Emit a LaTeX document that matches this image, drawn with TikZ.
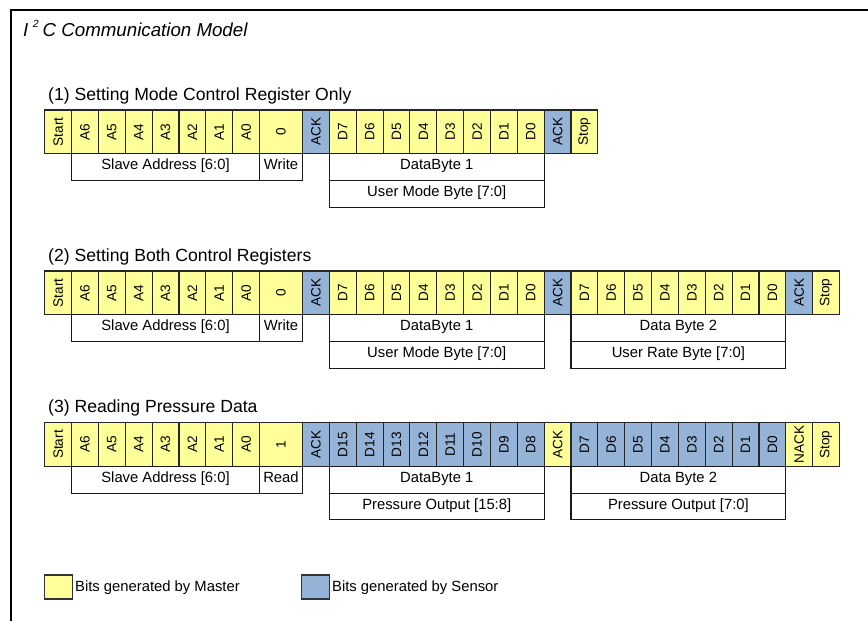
\documentclass[tikz,border=0pt]{standalone}
\usepackage{graphicx}
\usepackage{fontspec}
\setmainfont{Liberation Sans}
\definecolor{mY}{HTML}{FFFF99}
\definecolor{sB}{HTML}{95B3D7}
\begin{document}
\begin{tikzpicture}[x=1pt,y=-1pt,
  cellbox/.style={draw=black!85, line width=1.1pt, minimum height=43.7pt, inner sep=0pt, outer sep=0pt, anchor=north west, font=\fontsize{13.6}{14}\selectfont},
  labbox/.style={draw=black!90, line width=1.1pt, minimum height=26.7pt, inner sep=0pt, outer sep=0pt, anchor=north west, text height=0.72em, text depth=0.2em, font=\fontsize{14.8}{15}\selectfont},
  legbox/.style={draw=black!80, line width=1.3pt, minimum width=27.6pt, minimum height=24pt, inner sep=0pt, outer sep=0pt, anchor=north west},
  legtext/.style={anchor=base west, inner sep=0pt, font=\fontsize{14.8}{15}\selectfont},
  sectitle/.style={anchor=base west, inner sep=0pt, font=\fontsize{17.6}{18}\selectfont}]
\useasboundingbox (0,0) rectangle (868,621);
\fill[white] (0,0) rectangle (868,621);
\draw[line width=1.8pt] (11,621) -- (11,10) -- (868,10);

\node[anchor=base west, inner sep=0pt, font=\fontsize{18.7}{20}\selectfont\itshape] (title) at (23,36)
  {I\kern4.5pt\raisebox{9pt}{\fontsize{10.5}{11}\selectfont 2}\kern4pt C Communication Model};

% ---------- Row 1 ----------
\node[sectitle] (t1) at (48,100) {(1) Setting Mode Control Register Only};
\coordinate (r1c0) at (44.7,110);
\foreach \t/\f/\w [count=\i, remember=\i as \j (initially 0)] in
  {Start/mY/26.85pt, A6/mY/26.85pt, A5/mY/26.85pt, A4/mY/26.85pt, A3/mY/26.85pt, A2/mY/26.85pt, A1/mY/26.85pt, A0/mY/26.85pt,
   0/mY/43pt, ACK/sB/26.85pt,
   D7/mY/26.85pt, D6/mY/26.85pt, D5/mY/26.85pt, D4/mY/26.85pt, D3/mY/26.85pt, D2/mY/26.85pt, D1/mY/26.85pt, D0/mY/26.85pt,
   ACK/sB/26.85pt, Stop/mY/26.85pt}
  \node[cellbox, fill=\f, minimum width=\w] (r1c\i) at (r1c\j.north east) {\rotatebox{90}{\t}};
\node[labbox, minimum width=187.95pt] (r1sa) at (r1c1.south east) {Slave Address [6:0]};
\node[labbox, minimum width=43pt] (r1rw) at (r1sa.north east) {Write};
\node[labbox, minimum width=214.8pt] (r1d1) at (r1c10.south east) {DataByte 1};
\node[labbox, minimum width=214.8pt] (r1u1) at (r1d1.south west) {User Mode Byte [7:0]};

% ---------- Row 2 ----------
\node[sectitle] (t2) at (48,261) {(2) Setting Both Control Registers};
\coordinate (r2c0) at (44.7,271);
\foreach \t/\f/\w [count=\i, remember=\i as \j (initially 0)] in
  {Start/mY/26.85pt, A6/mY/26.85pt, A5/mY/26.85pt, A4/mY/26.85pt, A3/mY/26.85pt, A2/mY/26.85pt, A1/mY/26.85pt, A0/mY/26.85pt,
   0/mY/43pt, ACK/sB/26.85pt,
   D7/mY/26.85pt, D6/mY/26.85pt, D5/mY/26.85pt, D4/mY/26.85pt, D3/mY/26.85pt, D2/mY/26.85pt, D1/mY/26.85pt, D0/mY/26.85pt,
   ACK/sB/26.85pt,
   D7/mY/26.85pt, D6/mY/26.85pt, D5/mY/26.85pt, D4/mY/26.85pt, D3/mY/26.85pt, D2/mY/26.85pt, D1/mY/26.85pt, D0/mY/26.85pt,
   ACK/sB/26.85pt, Stop/mY/26.85pt}
  \node[cellbox, fill=\f, minimum width=\w] (r2c\i) at (r2c\j.north east) {\rotatebox{90}{\t}};
\node[labbox, minimum width=187.95pt] (r2sa) at (r2c1.south east) {Slave Address [6:0]};
\node[labbox, minimum width=43pt] (r2rw) at (r2sa.north east) {Write};
\node[labbox, minimum width=214.8pt] (r2d1) at (r2c10.south east) {DataByte 1};
\node[labbox, minimum width=214.8pt] (r2u1) at (r2d1.south west) {User Mode Byte [7:0]};
\node[labbox, minimum width=214.8pt] (r2d2) at (r2c19.south east) {Data Byte 2};
\node[labbox, minimum width=214.8pt] (r2u2) at (r2d2.south west) {User Rate Byte [7:0]};

% ---------- Row 3 ----------
\node[sectitle] (t3) at (48,412.7) {(3) Reading Pressure Data};
\coordinate (r3c0) at (44.7,422.7);
\foreach \t/\f/\w [count=\i, remember=\i as \j (initially 0)] in
  {Start/mY/26.85pt, A6/mY/26.85pt, A5/mY/26.85pt, A4/mY/26.85pt, A3/mY/26.85pt, A2/mY/26.85pt, A1/mY/26.85pt, A0/mY/26.85pt,
   1/mY/43pt, ACK/sB/26.85pt,
   D15/sB/26.85pt, D14/sB/26.85pt, D13/sB/26.85pt, D12/sB/26.85pt, D11/sB/26.85pt, D10/sB/26.85pt, D9/sB/26.85pt, D8/sB/26.85pt,
   ACK/mY/26.85pt,
   D7/sB/26.85pt, D6/sB/26.85pt, D5/sB/26.85pt, D4/sB/26.85pt, D3/sB/26.85pt, D2/sB/26.85pt, D1/sB/26.85pt, D0/sB/26.85pt,
   NACK/mY/26.85pt, Stop/mY/26.85pt}
  \node[cellbox, fill=\f, minimum width=\w] (r3c\i) at (r3c\j.north east) {\rotatebox{90}{\t}};
\node[labbox, minimum width=187.95pt] (r3sa) at (r3c1.south east) {Slave Address [6:0]};
\node[labbox, minimum width=43pt] (r3rw) at (r3sa.north east) {Read};
\node[labbox, minimum width=214.8pt] (r3d1) at (r3c10.south east) {DataByte 1};
\node[labbox, minimum width=214.8pt] (r3u1) at (r3d1.south west) {Pressure Output [15:8]};
\node[labbox, minimum width=214.8pt] (r3d2) at (r3c19.south east) {Data Byte 2};
\node[labbox, minimum width=214.8pt] (r3u2) at (r3d2.south west) {Pressure Output [7:0]};

% ---------- Legend ----------
\node[legbox, fill=mY] (lm) at (44.7,575) {};
\node[legtext] (lmt) at (75,591.7) {Bits generated by Master};
\node[legbox, fill=sB] (ls) at (301.7,575) {};
\node[legtext] (lst) at (332,591.7) {Bits generated by Sensor};
\end{tikzpicture}
\end{document}
